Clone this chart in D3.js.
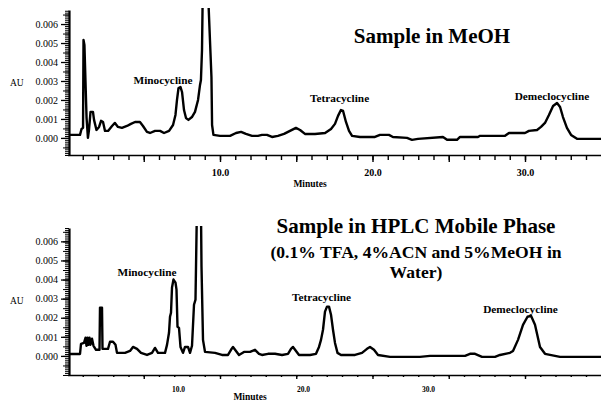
<!DOCTYPE html>
<html>
<head>
<meta charset="utf-8">
<script src="https://cdn.jsdelivr.net/npm/d3@7"></script>
<style>
  body { margin: 0; background: #fff; }
  svg text { font-family: "Liberation Serif", "Times New Roman", Times, serif; }
  .axis path, .axis line { stroke: #000; }
  .axis text { fill: #000; }
</style>
</head>
<body>
<svg width="601" height="401"></svg>
<script>
// chromatogram 1: sample in MeOH (minutes, AU)
const topTime = [0.10, 0.82, 0.92, 1.02, 1.05, 1.11, 1.25, 1.34, 1.41, 1.51, 1.67, 1.74, 1.90,
  2.07, 2.20, 2.33, 2.46, 2.66, 2.92, 3.11, 3.31, 3.57, 3.90, 4.16, 4.43, 4.75, 4.95, 5.21, 5.41,
  5.74, 6.07, 6.33, 6.66, 6.92, 7.08, 7.18, 7.28, 7.41, 7.51, 7.64, 7.77, 7.93, 8.16, 8.36, 8.56,
  8.69, 8.75, 8.82, 8.89, 9.02, 9.15, 9.44, 9.48, 9.57, 10.0, 10.66, 11.05, 11.38, 11.70, 12.10,
  12.49, 12.75, 13.08, 13.41, 13.80, 14.20, 14.59, 14.98, 15.25, 15.57, 16.23, 16.89, 17.28,
  17.54, 17.74, 17.93, 18.07, 18.26, 18.46, 18.66, 19.18, 20.16, 20.49, 21.08, 21.34, 22.26,
  22.59, 22.98, 24.62, 24.89, 25.54, 25.74, 26.92, 27.05, 28.69, 28.95, 30.0, 30.26, 30.79,
  31.05, 31.31, 31.57, 31.84, 32.10, 32.30, 32.49, 32.75, 33.02, 33.41, 35.0];
const topAU = [0.00016, 0.00016, 0.00047, 0.00053, 0.00516, 0.0049, 0.00105, 0.0, 0.00042, 0.00137,
  0.00137, 0.00095, 0.00042, 0.00058, 0.0009, 0.00084, 0.00037, 0.00037, 0.00063, 0.00079, 0.00058,
  0.00053, 0.00063, 0.00074, 0.00084, 0.00084, 0.00063, 0.00032, 0.00026, 0.00037, 0.00037, 0.00026,
  0.00037, 0.00068, 0.00121, 0.002, 0.00263, 0.00268, 0.00242, 0.00147, 0.00105, 0.00095, 0.0011,
  0.00137, 0.002, 0.00279, 0.00305, 0.00463, 0.009, 0.015, 0.009, 0.0032, 0.00068, 0.00016,
  0.00011, 0.00011, 0.00026, 0.00032, 0.00021, 0.00011, 0.00011, 0.00016, 0.00016, 0.00005,
  0.00011, 0.00021, 0.00037, 0.00053, 0.00042, 0.00021, 0.00021, 0.00026, 0.00047, 0.00074,
  0.00116, 0.00147, 0.00142, 0.00084, 0.00037, 0.00011, 0.00005, 0.00005, 0.00016, 0.00016,
  0.00005, 0.0, -0.0001, -0.00005, 0.00005, -0.0001, -0.0001, 0.00005, 0.00005, 0.00011, 0.00011,
  0.00026, 0.00026, 0.00037, 0.00042, 0.00058, 0.00079, 0.00121, 0.00168, 0.00184, 0.00163,
  0.0011, 0.00053, 0.00016, -0.00005, -0.00005];

// chromatogram 2: sample in HPLC mobile phase
const bottomTime = [1.28, 2.16, 2.24, 2.48, 2.60, 2.68, 2.76, 2.84, 2.92, 3.00, 3.12, 3.24, 3.44,
  3.72, 3.76, 3.92, 3.96, 4.40, 4.56, 4.80, 5.00, 5.12, 5.76, 6.16, 6.40, 6.72, 7.04, 7.52, 7.92,
  8.16, 8.40, 8.96, 9.12, 9.28, 9.36, 9.44, 9.52, 9.64, 9.80, 9.88, 9.96, 10.08, 10.20, 10.40,
  10.56, 10.80, 10.96, 11.12, 11.28, 11.40, 11.52, 11.68, 11.84, 11.88, 12.00, 12.16, 12.96,
  13.52, 14.00, 14.24, 14.40, 14.64, 14.88, 15.28, 15.76, 16.16, 16.48, 16.72, 17.20, 17.76,
  18.32, 18.80, 19.04, 19.20, 19.44, 19.68, 20.56, 21.04, 21.28, 21.44, 21.60, 21.76, 21.92,
  22.08, 22.24, 22.40, 22.56, 22.76, 23.04, 24.16, 24.72, 25.12, 25.36, 25.68, 26.00, 26.96,
  29.36, 30.16, 32.96, 33.36, 33.76, 34.32, 35.36, 35.76, 36.56, 36.80, 37.20, 37.60, 37.96,
  38.24, 38.56, 38.96, 39.36, 40.56, 43.84];
const bottomAU = [0.0001, 0.0001, 0.00063, 0.00068, 0.00095, 0.00053, 0.00095, 0.00058, 0.00095,
  0.00058, 0.0009, 0.00053, 0.00032, 0.00032, 0.00253, 0.00253, 0.00037, 0.00037, 0.00074,
  0.00074, 0.00058, 0.00016, 0.00016, 0.00026, 0.00047, 0.00037, 0.00016, 0.00005, 0.00016,
  0.00042, 0.00016, 0.00016, 0.00058, 0.00121, 0.00205, 0.00226, 0.00358, 0.004, 0.00384,
  0.00347, 0.00153, 0.00147, 0.00047, 0.00016, 0.00047, 0.00047, 0.00016, 0.00053, 0.00268,
  0.00295, 0.008, 0.014, 0.0075, 0.00468, 0.00084, 0.00021, 0.00016, 0.00005, 0.00005, 0.00032,
  0.00047, 0.00026, 0.00005, 0.00021, 0.00021, 0.00032, 0.00011, 0.00005, 0.00011, 0.00011,
  0.00005, 0.00011, 0.00037, 0.00047, 0.00026, 0.00005, 0.00005, 0.00011, 0.00047, 0.00084,
  0.00137, 0.00232, 0.00258, 0.00258, 0.00216, 0.00137, 0.00068, 0.00016, 0.00005, 0.00005,
  0.00016, 0.00037, 0.00047, 0.00032, 0.00005, -0.00005, -0.00005, 0.0, 0.0, 0.00011, 0.00011,
  -0.00005, -0.00005, 0.00005, 0.00016, 0.00026, 0.00084, 0.00163, 0.00205, 0.0021, 0.00163,
  0.00047, 0.00011, -0.00005, -0.00005];

const peakNames = ['Minocycline', 'Tetracycline', 'Demeclocycline'];
const yTickValues = [0, 0.001, 0.002, 0.003, 0.004, 0.005, 0.006];
const xLabelValues = [10, 20, 30];
const xLabelText = ['10.0', '20.0', '30.0'];
const titleTop = ['Sample in MeOH'];
const titleBottom = ['Sample in HPLC Mobile Phase', '(0.1% TFA, 4%ACN and 5%MeOH in', 'Water)'];

const FONT = '"Liberation Serif", "Times New Roman", Times, serif';
const svg = d3.select('svg');

// shared tick frame (1-minute ticks) used by both panels
const xFrame = d3.scaleLinear().domain([0, 35]).range([67.5, 601.25]);
const minuteTicks = d3.range(1, 35);
const fiveTicks = minuteTicks.filter(d => d % 5 === 0);

function panel(opts) {
    const g = svg.append('g');
    const x = opts.x;
    const y = d3.scaleLinear().domain(opts.yDomain).range([opts.bottom, opts.top]);
    const axisX = 69;

    g.append('clipPath').attr('id', opts.id)
        .append('rect')
        .attr('x', axisX).attr('y', opts.top - 2)
        .attr('width', 601 - axisX).attr('height', opts.bottom - opts.top + 2);

    // y axis: ruler-like minor ticks
    const minor = d3.range(Math.ceil(opts.yDomain[0] * 10000), Math.floor(opts.yDomain[1] * 10000) + 1)
        .map(d => d / 10000);
    g.append('g').attr('class', 'axis')
        .attr('transform', `translate(${axisX},0)`)
        .call(d3.axisLeft(y).tickValues(minor).tickSize(4).tickSizeOuter(0).tickFormat(''))
        .call(s => s.select('.domain').attr('stroke-width', 2.2));
    g.append('g').attr('class', 'axis')
        .attr('transform', `translate(${axisX},0)`)
        .call(d3.axisLeft(y).tickValues(minor.filter(d => Math.round(d * 10000) % 5 === 0))
            .tickSize(6).tickSizeOuter(0).tickFormat(''))
        .call(s => s.select('.domain').remove());
    g.append('g').attr('class', 'axis')
        .attr('transform', `translate(${axisX},0)`)
        .call(d3.axisLeft(y).tickValues(yTickValues).tickSize(8).tickPadding(3)
            .tickFormat(d3.format('.3f')))
        .call(s => s.select('.domain').remove())
        .call(s => s.selectAll('line').attr('stroke-width', 1.3))
        .call(s => s.selectAll('text').attr('font-size', 10).attr('font-family', FONT));

    g.append('text').text('AU')
        .attr('x', 10).attr('y', y(0.003) + 5)
        .attr('font-family', FONT)
        .attr('font-size', 9.5);

    // x axis ticks
    g.append('g').attr('class', 'axis')
        .attr('transform', `translate(0,${opts.bottom})`)
        .call(d3.axisBottom(xFrame).tickValues(minuteTicks).tickSize(opts.minorTick).tickSizeOuter(0).tickFormat(''))
        .call(s => s.select('.domain').attr('stroke-width', 1.6).attr('d', `M${axisX - 1},0.5H601`))
        .call(s => s.selectAll('line').attr('stroke-width', 1.4));
    g.append('g').attr('class', 'axis')
        .attr('transform', `translate(0,${opts.bottom})`)
        .call(d3.axisBottom(xFrame).tickValues(fiveTicks).tickSize(opts.majorTick).tickFormat(''))
        .call(s => s.select('.domain').remove())
        .call(s => s.selectAll('line').attr('stroke-width', 1.4));
    // x labels (panel's own time scale)
    g.append('g').attr('class', 'axis')
        .attr('transform', `translate(0,${opts.bottom})`)
        .call(d3.axisBottom(x).tickValues(xLabelValues).tickSize(0).tickPadding(opts.labelPad)
            .tickFormat((d, i) => xLabelText[i]))
        .call(s => s.select('.domain').remove())
        .call(s => s.selectAll('text').attr('font-size', opts.labelSize)
            .attr('font-weight', 'bold').attr('font-family', FONT));

    g.append('text').text('Minutes')
        .attr('x', opts.minutesX).attr('y', opts.minutesY)
        .attr('text-anchor', 'middle')
        .attr('font-family', FONT)
        .attr('font-size', 9.5).attr('font-weight', 'bold');

    // trace
    const line = d3.line()
        .x((d, i) => x(opts.time[i]))
        .y(d => y(d));
    g.append('g').attr('clip-path', `url(#${opts.id})`)
        .append('path')
        .datum(opts.au)
        .attr('d', line)
        .attr('fill', 'none')
        .attr('stroke', '#000')
        .attr('stroke-width', 2.4)
        .attr('stroke-linejoin', 'round');

    // peak names
    g.selectAll('.peak').data(peakNames).join('text')
        .attr('class', 'peak')
        .attr('x', (d, i) => x(opts.labelAt[i][0]))
        .attr('y', (d, i) => y(opts.labelAt[i][1]))
        .attr('text-anchor', 'middle')
        .attr('font-family', FONT)
        .attr('font-size', 11.3)
        .attr('font-weight', 'bold')
        .text(d => d);

    // titles
    g.selectAll('.title').data(opts.title).join('text')
        .attr('class', 'title')
        .attr('x', opts.titleX)
        .attr('y', (d, i) => opts.titleY[i])
        .attr('text-anchor', 'middle')
        .attr('font-family', FONT)
        .attr('font-weight', 'bold')
        .attr('font-size', (d, i) => i === 0 ? 21 : 17.6)
        .text(d => d);
}

panel({
    id: 'clipTop',
    x: xFrame,
    time: topTime, au: topAU,
    yDomain: [-0.0009, 0.00674], top: 10, bottom: 155,
    minorTick: 5, majorTick: 7, labelPad: 14, labelSize: 10,
    minutesX: 310, minutesY: 187,
    labelAt: [[6.26, 0.00284], [17.84, 0.0019], [31.77, 0.002]],
    title: titleTop, titleX: 432, titleY: [43],
});

panel({
    id: 'clipBottom',
    x: d3.scaleLinear().domain([1.2, 43.84]).range([68, 601]),
    time: bottomTime, au: bottomAU,
    yDomain: [-0.001, 0.0067], top: 228, bottom: 375,
    minorTick: 2, majorTick: 4, labelPad: 12, labelSize: 7.5,
    minutesX: 250, minutesY: 399.5,
    labelAt: [[7.52, 0.00421], [21.48, 0.0029], [37.4, 0.00226]],
    title: titleBottom, titleX: 416, titleY: [233, 258, 278],
});
</script>
</body>
</html>
